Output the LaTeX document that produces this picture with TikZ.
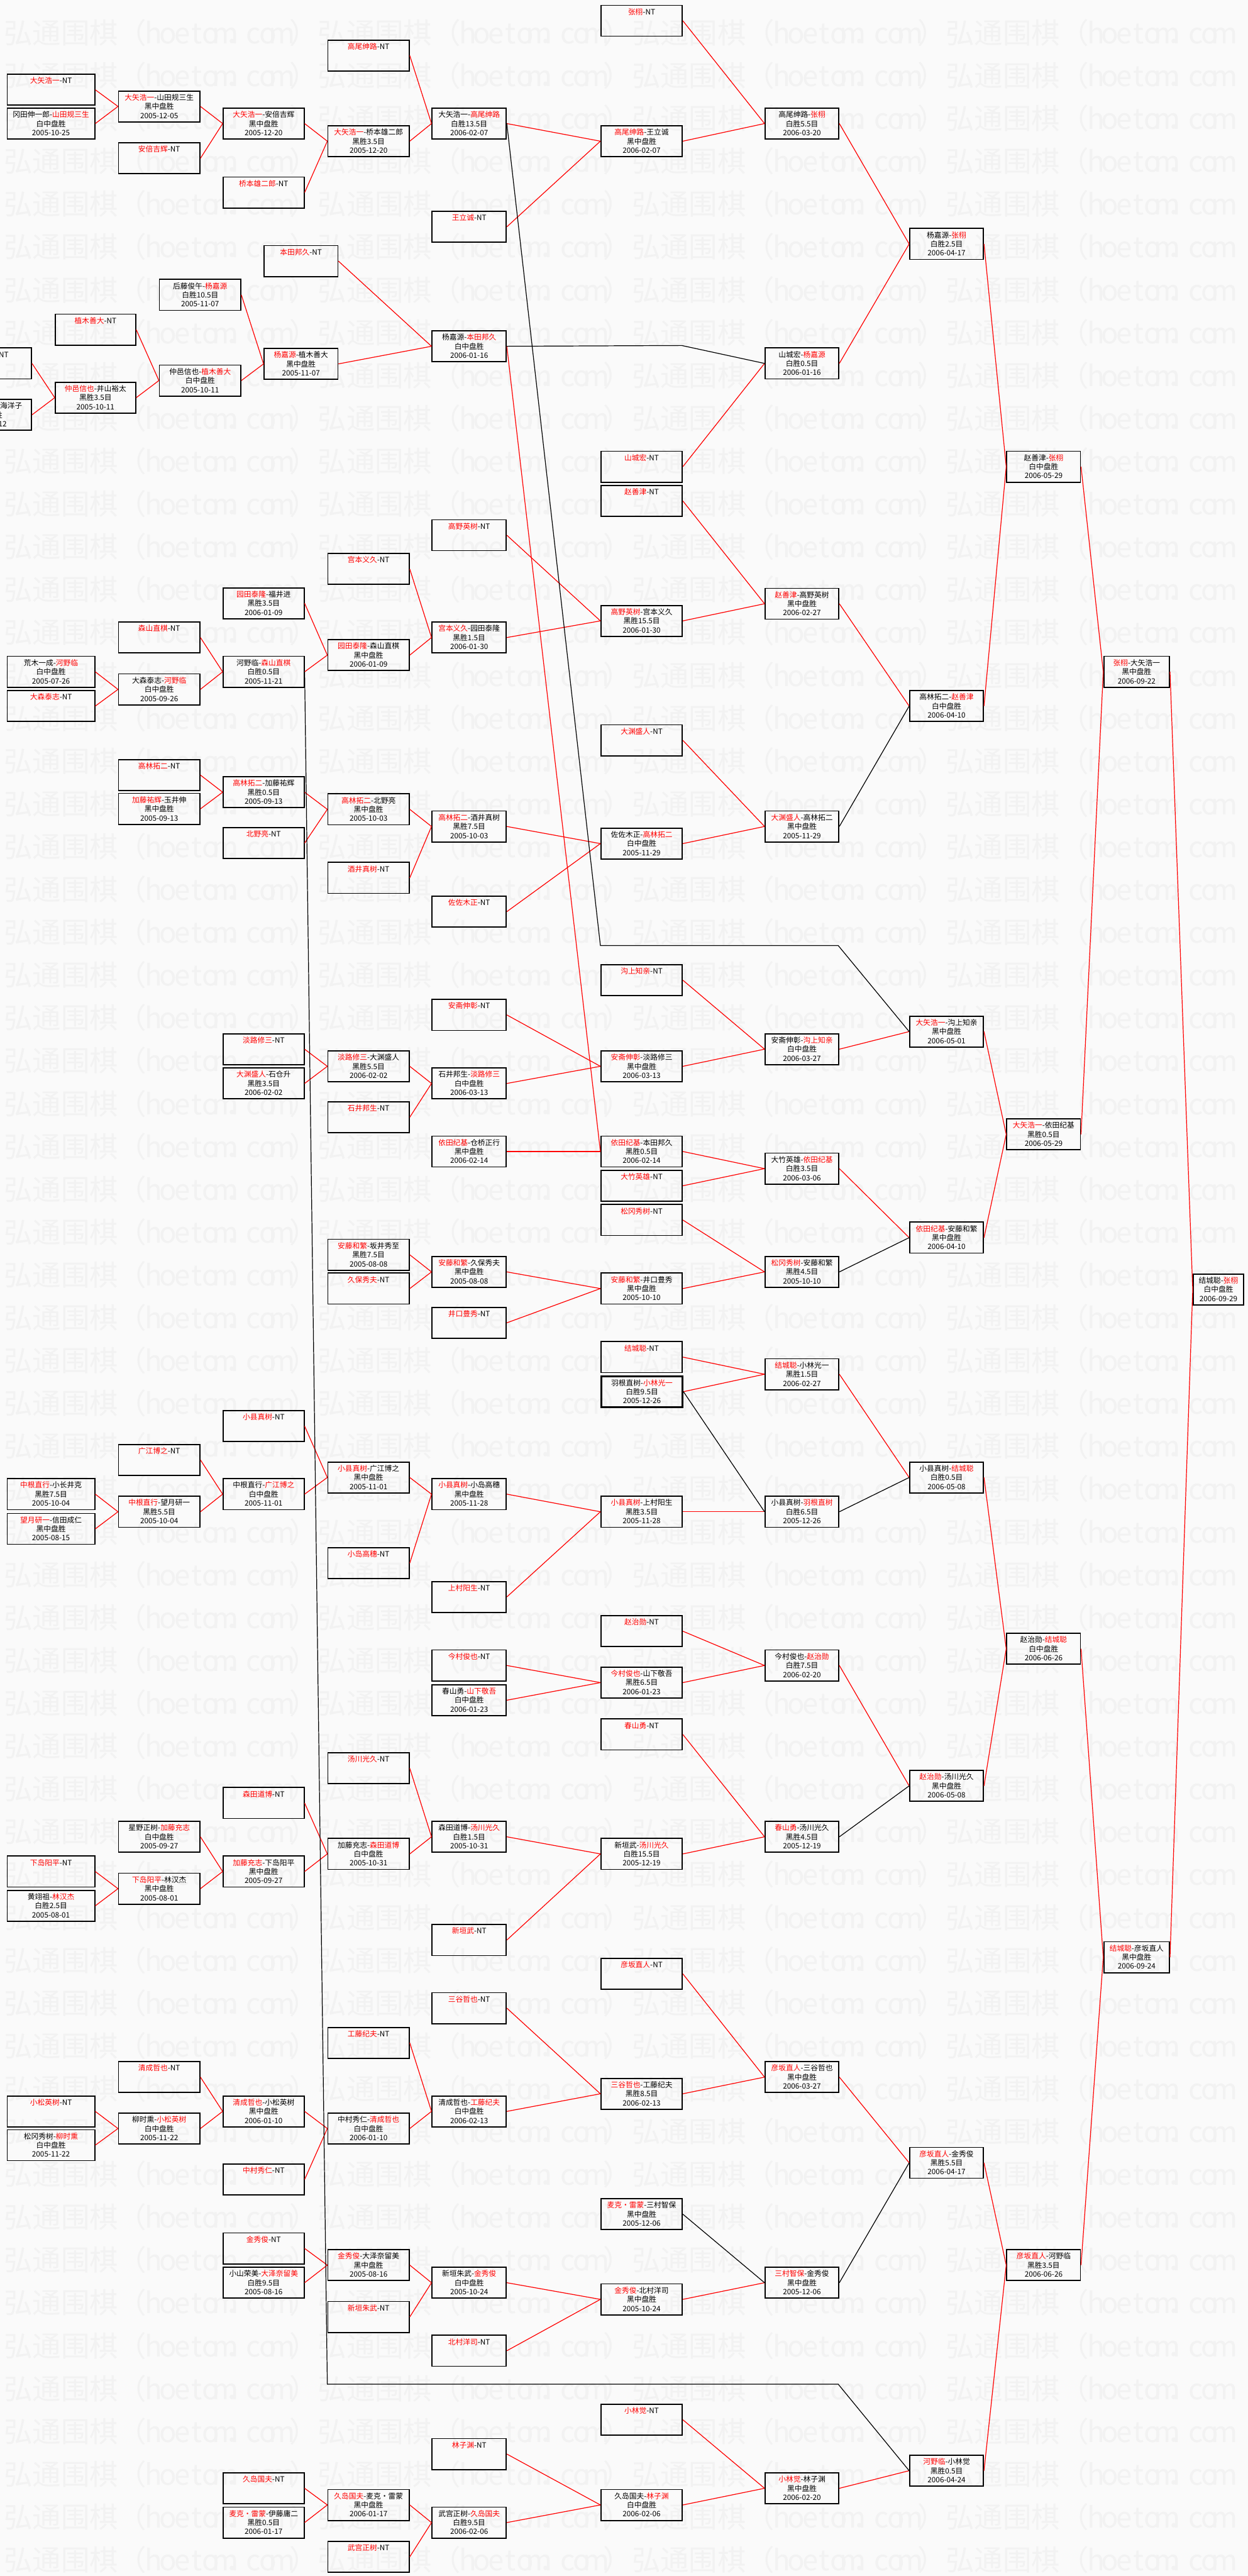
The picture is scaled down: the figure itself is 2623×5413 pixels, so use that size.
\documentclass[tikz,border=0pt]{standalone}
\usepackage{fontspec}
\setmainfont{Noto Sans CJK SC}
\definecolor{bgc}{RGB}{250,250,250}
\definecolor{wmc}{RGB}{242,242,242}
\newcommand\rd[1]{\textcolor{red}{#1}}
\newcommand\gbox[6][]{\node[bx,#1,anchor=north west] (#2) at (#3,#4) {\parbox[t][65pt][t]{#5pt}{\centering\rule{0pt}{19.5pt}#6}};}
\newcommand\wmch[1]{\makebox[30pt]{#1}}
\newcommand\wmpart{弘通围棋（\wmch{h}\wmch{o}\wmch{e}\wmch{t}\wmch{o}\wmch{m}\wmch{．}\wmch{c}\wmch{o}\wmch{m}}
\newcommand\wmunit{\wmpart）}
\begin{document}
\begin{tikzpicture}[x=1pt,y=-1pt,
  bx/.style={draw=black,line width=2.3pt,inner sep=0pt,font=\fontsize{15.5}{19}\selectfont},
  thickbx/.style={line width=3.6pt},
  rl/.style={red,line width=1.6pt},
  bl/.style={black,line width=1.6pt},
  wm/.style={wmc,inner sep=0pt,font=\fontsize{60}{60}\selectfont}]
\useasboundingbox (0,0) rectangle (2623,5413);
\fill[bgc] (0,0) rectangle (2623,5413);
\foreach \k in {0,...,59} \node[wm,anchor=west] (w\k) at (8,{69+90*\k}) {\wmunit\wmunit\wmunit\wmpart};
% ---- boxes ----
\gbox{n1}{14}{155}{184}{\rd{大矢浩一}-NT}
\gbox{n2}{14}{226}{184}{冈田伸一郎-\rd{山田规三生}\\白中盘胜\\2005-10-25}
\gbox{n3}{248}{190}{171}{\rd{大矢浩一}-山田规三生\\黑中盘胜\\2005-12-05}
\gbox{n4}{248}{299}{171}{\rd{安倍吉辉}-NT}
\gbox{n5}{468}{226}{170}{\rd{大矢浩一}-安倍吉辉\\黑中盘胜\\2005-12-20}
\gbox{n6}{468}{371}{170}{\rd{桥本雄二郎}-NT}
\gbox{n7}{688}{83}{171}{\rd{高尾绅路}-NT}
\gbox{n8}{688}{263}{171}{\rd{大矢浩一}-桥本雄二郎\\黑胜3.5目\\2005-12-20}
\gbox{n9}{554}{515}{155}{\rd{本田邦久}-NT}
\gbox{n10}{334}{586}{171}{后藤俊午-\rd{杨嘉源}\\白胜10.5目\\2005-11-07}
\gbox{n11}{115}{659}{169}{\rd{植木善大}-NT}
\gbox{n12}{-119}{730}{184}{\rd{仲邑信也}-NT}
\gbox{n13}{-119}{838}{184}{\rd{井山裕太}-小林海洋子\\黑中盘胜\\2005-08-12}
\gbox{n14}{115}{802}{169}{\rd{仲邑信也}-井山裕太\\黑胜3.5目\\2005-10-11}
\gbox{n15}{334}{766}{171}{仲邑信也-\rd{植木善大}\\白中盘胜\\2005-10-11}
\gbox{n16}{554}{731}{155}{\rd{杨嘉源}-植木善大\\黑中盘胜\\2005-11-07}
\gbox{n17}{688}{1162}{171}{\rd{宫本义久}-NT}
\gbox{n18}{468}{1234}{170}{\rd{园田泰隆}-福井进\\黑胜3.5目\\2006-01-09}
\gbox{n19}{248}{1306}{171}{\rd{森山直棋}-NT}
\gbox{n21}{1262}{10}{171}{\rd{张栩}-NT}
\gbox{n22}{907}{226}{156}{大矢浩一-\rd{高尾绅路}\\白胜13.5目\\2006-02-07}
\gbox{n23}{1262}{263}{171}{\rd{高尾绅路}-王立诚\\黑中盘胜\\2006-02-07}
\gbox{n24}{1607}{226}{155}{高尾绅路-\rd{张栩}\\白胜5.5目\\2006-03-20}
\gbox{n25}{907}{443}{156}{\rd{王立诚}-NT}
\gbox{n26}{907}{694}{156}{杨嘉源-\rd{本田邦久}\\白中盘胜\\2006-01-16}
\gbox{n27}{1607}{730}{155}{山城宏-\rd{杨嘉源}\\白胜0.5目\\2006-01-16}
\gbox{n28}{1262}{947}{171}{\rd{山城宏}-NT}
\gbox{n29}{1262}{1019}{171}{\rd{赵善津}-NT}
\gbox{n30}{907}{1091}{156}{\rd{高野英树}-NT}
\gbox{n31}{1607}{1235}{155}{\rd{赵善津}-高野英树\\黑中盘胜\\2006-02-27}
\gbox{n32}{1262}{1271}{171}{\rd{高野英树}-宫本义久\\黑胜15.5目\\2006-01-30}
\gbox{n33}{907}{1306}{156}{\rd{宫本义久}-园田泰隆\\黑胜1.5目\\2006-01-30}
\gbox{n34}{1911}{479}{155}{杨嘉源-\rd{张栩}\\白胜2.5目\\2006-04-17}
\gbox{n35}{2115}{947}{155}{赵善津-\rd{张栩}\\白中盘胜\\2006-05-29}
\gbox{n36}{1911}{1450}{155}{高林拓二-\rd{赵善津}\\白中盘胜\\2006-04-10}
\gbox{n37}{2319}{1378}{138}{\rd{张栩}-大矢浩一\\黑中盘胜\\2006-09-22}
\gbox{n38}{1911}{2134}{155}{\rd{大矢浩一}-沟上知亲\\黑中盘胜\\2006-05-01}
\gbox{n39}{2115}{2350}{155}{\rd{大矢浩一}-依田纪基\\黑胜0.5目\\2006-05-29}
\gbox{n40}{1911}{2567}{155}{\rd{依田纪基}-安藤和繁\\黑中盘胜\\2006-04-10}
\gbox{n41}{2507}{2676}{106}{结城聪-\rd{张栩}\\白中盘胜\\2006-09-29}
\gbox{n42}{14}{1378}{184}{荒木一成-\rd{河野临}\\白中盘胜\\2005-07-26}
\gbox{n43}{14}{1450}{184}{\rd{大森泰志}-NT}
\gbox{n44}{248}{1415}{171}{大森泰志-\rd{河野临}\\白中盘胜\\2005-09-26}
\gbox{n45}{468}{1378}{170}{河野临-\rd{森山直棋}\\白胜0.5目\\2005-11-21}
\gbox{n46}{688}{1343}{171}{\rd{园田泰隆}-森山直棋\\黑中盘胜\\2006-01-09}
\gbox{n47}{248}{1595}{171}{\rd{高林拓二}-NT}
\gbox{n48}{248}{1666}{171}{\rd{加藤祐辉}-玉井伸\\黑中盘胜\\2005-09-13}
\gbox{n49}{468}{1631}{170}{\rd{高林拓二}-加藤祐辉\\黑胜0.5目\\2005-09-13}
\gbox{n50}{468}{1738}{170}{\rd{北野亮}-NT}
\gbox{n51}{688}{1667}{171}{\rd{高林拓二}-北野亮\\黑中盘胜\\2005-10-03}
\gbox{n52}{688}{1811}{171}{\rd{酒井真树}-NT}
\gbox{n53}{468}{2171}{170}{\rd{淡路修三}-NT}
\gbox{n54}{468}{2243}{170}{\rd{大渊盛人}-石仓升\\黑胜3.5目\\2006-02-02}
\gbox{n55}{688}{2207}{171}{\rd{淡路修三}-大渊盛人\\黑胜5.5目\\2006-02-02}
\gbox{n56}{688}{2314}{171}{\rd{石井邦生}-NT}
\gbox{n57}{688}{2603}{171}{\rd{安藤和繁}-坂井秀至\\黑胜7.5目\\2005-08-08}
\gbox{n58}{688}{2674}{171}{\rd{久保秀夫}-NT}
\gbox{n59}{1262}{1522}{171}{\rd{大渊盛人}-NT}
\gbox{n60}{907}{1703}{156}{\rd{高林拓二}-酒井真树\\黑胜7.5目\\2005-10-03}
\gbox{n61}{1262}{1739}{171}{佐佐木正-\rd{高林拓二}\\白中盘胜\\2005-11-29}
\gbox{n62}{1607}{1703}{155}{\rd{大渊盛人}-高林拓二\\黑中盘胜\\2005-11-29}
\gbox{n63}{907}{1882}{156}{\rd{佐佐木正}-NT}
\gbox{n64}{1262}{2026}{171}{\rd{沟上知亲}-NT}
\gbox{n65}{907}{2099}{156}{\rd{安斋伸彰}-NT}
\gbox{n66}{1607}{2171}{155}{安斋伸彰-\rd{沟上知亲}\\白中盘胜\\2006-03-27}
\gbox{n67}{1262}{2207}{171}{\rd{安斋伸彰}-淡路修三\\黑中盘胜\\2006-03-13}
\gbox{n68}{907}{2243}{156}{石井邦生-\rd{淡路修三}\\白中盘胜\\2006-03-13}
\gbox{n69}{907}{2386}{156}{\rd{依田纪基}-仓桥正行\\黑中盘胜\\2006-02-14}
\gbox{n70}{1262}{2386}{171}{\rd{依田纪基}-本田邦久\\黑胜0.5目\\2006-02-14}
\gbox{n71}{1262}{2458}{171}{\rd{大竹英雄}-NT}
\gbox{n72}{1607}{2422}{155}{大竹英雄-\rd{依田纪基}\\白胜3.5目\\2006-03-06}
\gbox{n73}{1262}{2530}{171}{\rd{松冈秀树}-NT}
\gbox{n74}{907}{2639}{156}{\rd{安藤和繁}-久保秀夫\\黑中盘胜\\2005-08-08}
\gbox{n75}{1607}{2639}{155}{\rd{松冈秀树}-安藤和繁\\黑胜4.5目\\2005-10-10}
\gbox{n76}{1262}{2674}{171}{\rd{安藤和繁}-井口豊秀\\黑中盘胜\\2005-10-10}
\gbox{n77}{468}{2963}{170}{\rd{小县真树}-NT}
\gbox{n78}{248}{3034}{171}{\rd{广江博之}-NT}
\gbox{n79}{14}{3106}{184}{\rd{中根直行}-小长井克\\黑胜7.5目\\2005-10-04}
\gbox{n80}{14}{3179}{184}{\rd{望月研一}-信田成仁\\黑中盘胜\\2005-08-15}
\gbox{n81}{248}{3143}{171}{\rd{中根直行}-望月研一\\黑胜5.5目\\2005-10-04}
\gbox{n82}{468}{3106}{170}{中根直行-\rd{广江博之}\\白中盘胜\\2005-11-01}
\gbox{n83}{688}{3071}{171}{\rd{小县真树}-广江博之\\黑中盘胜\\2005-11-01}
\gbox{n84}{688}{3251}{171}{\rd{小岛高穗}-NT}
\gbox{n85}{688}{3682}{171}{\rd{汤川光久}-NT}
\gbox{n86}{468}{3755}{170}{\rd{森田道博}-NT}
\gbox{n87}{248}{3826}{171}{星野正树-\rd{加藤充志}\\白中盘胜\\2005-09-27}
\gbox{n88}{14}{3899}{184}{\rd{下岛阳平}-NT}
\gbox{n89}{468}{3899}{170}{\rd{加藤充志}-下岛阳平\\黑中盘胜\\2005-09-27}
\gbox{n90}{688}{3862}{171}{加藤充志-\rd{森田道博}\\白中盘胜\\2005-10-31}
\gbox{n91}{248}{3935}{171}{\rd{下岛阳平}-林汉杰\\黑中盘胜\\2005-08-01}
\gbox{n92}{14}{3971}{184}{黄翊祖-\rd{林汉杰}\\白胜2.5目\\2005-08-01}
\gbox{n93}{907}{2746}{156}{\rd{井口豊秀}-NT}
\gbox{n94}{1262}{2818}{171}{\rd{结城聪}-NT}
\gbox[thickbx]{n95}{1262}{2890}{171}{羽根直树-\rd{小林光一}\\白胜9.5目\\2005-12-26}
\gbox{n96}{1607}{2854}{155}{\rd{结城聪}-小林光一\\黑胜1.5目\\2006-02-27}
\gbox{n97}{907}{3106}{156}{\rd{小县真树}-小岛高穗\\黑中盘胜\\2005-11-28}
\gbox{n98}{1262}{3143}{171}{\rd{小县真树}-上村阳生\\黑胜3.5目\\2005-11-28}
\gbox{n99}{1607}{3143}{155}{小县真树-\rd{羽根直树}\\白胜6.5目\\2005-12-26}
\gbox{n100}{907}{3322}{156}{\rd{上村阳生}-NT}
\gbox{n101}{1262}{3394}{171}{\rd{赵治勋}-NT}
\gbox{n102}{907}{3466}{156}{\rd{今村俊也}-NT}
\gbox{n103}{1607}{3466}{155}{今村俊也-\rd{赵治勋}\\白胜7.5目\\2006-02-20}
\gbox{n104}{1262}{3502}{171}{\rd{今村俊也}-山下敬吾\\黑胜6.5目\\2006-01-23}
\gbox{n105}{907}{3539}{156}{春山勇-\rd{山下敬吾}\\白中盘胜\\2006-01-23}
\gbox{n106}{1262}{3611}{171}{\rd{春山勇}-NT}
\gbox{n107}{907}{3826}{156}{森田道博-\rd{汤川光久}\\白胜1.5目\\2005-10-31}
\gbox{n108}{1607}{3826}{155}{\rd{春山勇}-汤川光久\\黑胜4.5目\\2005-12-19}
\gbox{n109}{1262}{3862}{171}{新垣武-\rd{汤川光久}\\白胜15.5目\\2005-12-19}
\gbox{n110}{907}{4043}{156}{\rd{新垣武}-NT}
\gbox{n111}{1911}{3071}{155}{小县真树-\rd{结城聪}\\白胜0.5目\\2006-05-08}
\gbox{n112}{2115}{3431}{155}{赵治勋-\rd{结城聪}\\白中盘胜\\2006-06-26}
\gbox{n113}{1911}{3719}{155}{\rd{赵治勋}-汤川光久\\黑中盘胜\\2006-05-08}
\gbox{n114}{688}{4259}{171}{\rd{工藤纪夫}-NT}
\gbox{n115}{248}{4331}{171}{\rd{清成哲也}-NT}
\gbox{n116}{14}{4403}{184}{\rd{小松英树}-NT}
\gbox{n117}{468}{4403}{170}{\rd{清成哲也}-小松英树\\黑中盘胜\\2006-01-10}
\gbox{n118}{248}{4439}{171}{柳时熏-\rd{小松英树}\\白中盘胜\\2005-11-22}
\gbox{n119}{688}{4439}{171}{中村秀仁-\rd{清成哲也}\\白中盘胜\\2006-01-10}
\gbox{n120}{14}{4474}{184}{松冈秀树-\rd{柳时熏}\\白中盘胜\\2005-11-22}
\gbox{n121}{468}{4546}{170}{\rd{中村秀仁}-NT}
\gbox{n122}{468}{4691}{170}{\rd{金秀俊}-NT}
\gbox{n123}{688}{4726}{171}{\rd{金秀俊}-大泽奈留美\\黑中盘胜\\2005-08-16}
\gbox{n124}{468}{4763}{170}{小山荣美-\rd{大泽奈留美}\\白胜9.5目\\2005-08-16}
\gbox{n125}{688}{4835}{171}{\rd{新垣朱武}-NT}
\gbox{n126}{468}{5195}{170}{\rd{久岛国夫}-NT}
\gbox{n127}{688}{5230}{171}{\rd{久岛国夫}-麦克・雷蒙\\黑中盘胜\\2006-01-17}
\gbox{n128}{468}{5267}{170}{\rd{麦克・雷蒙}-伊藤庸二\\黑胜0.5目\\2006-01-17}
\gbox{n129}{688}{5339}{171}{\rd{武宫正树}-NT}
\gbox{n130}{1262}{4114}{171}{\rd{彦坂直人}-NT}
\gbox{n131}{907}{4186}{156}{\rd{三谷哲也}-NT}
\gbox{n132}{1607}{4331}{155}{\rd{彦坂直人}-三谷哲也\\黑中盘胜\\2006-03-27}
\gbox{n133}{1262}{4366}{171}{\rd{三谷哲也}-工藤纪夫\\黑胜8.5目\\2006-02-13}
\gbox{n134}{907}{4403}{156}{清成哲也-\rd{工藤纪夫}\\白中盘胜\\2006-02-13}
\gbox{n135}{1262}{4619}{171}{\rd{麦克・雷蒙}-三村智保\\黑中盘胜\\2005-12-06}
\gbox{n136}{907}{4763}{156}{新垣朱武-\rd{金秀俊}\\白中盘胜\\2005-10-24}
\gbox{n137}{1607}{4763}{155}{\rd{三村智保}-金秀俊\\黑中盘胜\\2005-12-06}
\gbox{n138}{1262}{4798}{171}{\rd{金秀俊}-北村洋司\\黑中盘胜\\2005-10-24}
\gbox{n139}{907}{4906}{156}{\rd{北村洋司}-NT}
\gbox{n140}{1262}{5051}{171}{\rd{小林觉}-NT}
\gbox{n141}{907}{5123}{156}{\rd{林子渊}-NT}
\gbox{n142}{1607}{5195}{155}{\rd{小林觉}-林子渊\\黑中盘胜\\2006-02-20}
\gbox{n143}{1262}{5230}{171}{久岛国夫-\rd{林子渊}\\白中盘胜\\2006-02-06}
\gbox{n144}{907}{5267}{156}{武宫正树-\rd{久岛国夫}\\白胜9.5目\\2006-02-06}
\gbox{n145}{2319}{4079}{138}{\rd{结城聪}-彦坂直人\\黑中盘胜\\2006-09-24}
\gbox{n146}{1911}{4511}{155}{\rd{彦坂直人}-金秀俊\\黑胜5.5目\\2006-04-17}
\gbox{n147}{2115}{4726}{155}{\rd{彦坂直人}-河野临\\黑胜3.5目\\2006-06-26}
\gbox{n148}{1911}{5158}{155}{\rd{河野临}-小林觉\\黑胜0.5目\\2006-04-24}
% ---- bend points ----
\coordinate (c1) at (1262,1987);
\coordinate (c2) at (1762,1987);
\coordinate (c3) at (1433,726);
\coordinate (c4) at (688,5010);
\coordinate (c5) at (1762,5010);
% ---- red connectors ----
\foreach \a/\b in {1/3,2/3,3/5,4/5,5/8,6/8,7/22,8/22,22/23,25/23,23/24,21/24,24/34,27/34,34/35,36/35,35/37,39/37,37/41,145/41,
 9/26,16/26,10/16,15/16,11/15,14/15,12/14,13/14,28/27,26/70,
 17/33,46/33,18/46,45/46,19/45,44/45,42/44,43/44,
 33/32,30/32,32/31,29/31,31/36,
 47/49,48/49,49/51,50/51,51/60,52/60,60/61,63/61,61/62,59/62,
 53/55,54/55,55/68,56/68,68/67,65/67,67/66,64/66,66/38,38/39,40/39,72/40,
 69/70,70/72,71/72,57/74,58/74,74/76,93/76,76/75,73/75,
 94/96,95/96,96/111,111/112,113/112,112/145,103/113,
 77/83,78/82,79/81,80/81,81/82,82/83,83/97,84/97,97/98,100/98,98/99,
 101/103,104/103,102/104,105/104,
 85/107,86/90,87/89,88/91,92/91,91/89,89/90,90/107,107/109,110/109,109/108,106/108,
 114/134,115/117,116/118,120/118,118/117,117/119,121/119,119/134,134/133,131/133,133/132,130/132,132/146,146/147,148/147,147/145,
 122/123,124/123,123/136,125/136,136/138,139/138,138/137,
 126/127,128/127,127/144,129/144,144/143,141/143,143/142,140/142,142/148}
  \draw[rl] (n\a.east) -- (n\b.west);
% ---- black connectors ----
\foreach \a/\b in {62/36,75/40,95/99,99/111,108/113,135/137,137/146}
  \draw[bl] (n\a.east) -- (n\b.west);
\draw[bl] (n22.east) -- (c1) -- (c2) -- (n38.west);
\draw[bl] (n26.east) -- (c3) -- (n27.west);
\draw[bl] (n45.east) -- (c4) -- (c5) -- (n148.west);
\end{tikzpicture}
\end{document}
